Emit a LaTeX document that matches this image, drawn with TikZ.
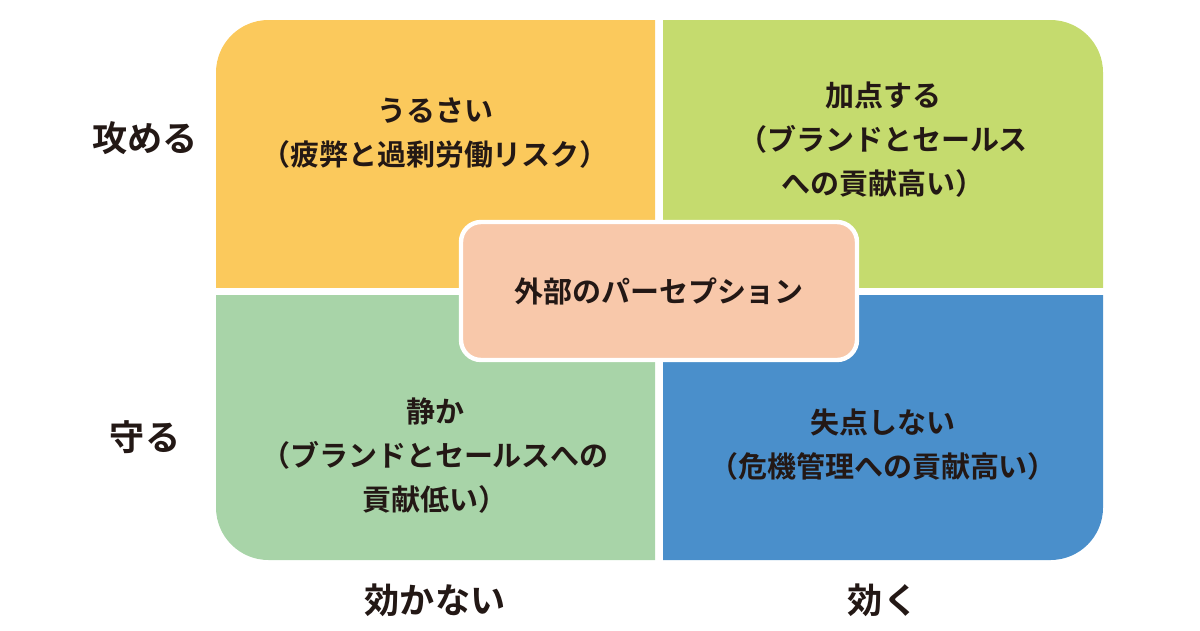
\documentclass[tikz,border=0pt]{standalone}
\usepackage{fontspec}
\setmainfont{Noto Sans CJK JP}[BoldFont={Noto Sans CJK JP Bold}]
\definecolor{inkdark}{HTML}{231815}
\definecolor{qyellow}{HTML}{FBC95C}
\definecolor{qlime}{HTML}{C5DB6E}
\definecolor{qgreen}{HTML}{A8D4A8}
\definecolor{qblue}{HTML}{4A8FCB}
\definecolor{qpeach}{HTML}{F8C8AA}
\tikzset{
  celltext/.style={text=inkdark,font=\bfseries\fontsize{16.5}{25}\selectfont,align=center},
  axistext/.style={text=inkdark,font=\bfseries\fontsize{20}{24}\selectfont}
}
\newcommand{\quadfill}[5]{%
  \begin{scope}
    \clip (#1,#2) rectangle (#3,#4);
    \fill[#5,rounded corners=1.05cm] (4.32,1.4) rectangle (22.06,12.2);
  \end{scope}}
\begin{document}
\begin{tikzpicture}
  \useasboundingbox (0,0) rectangle (24,12.6);

  % quadrants
  \quadfill{4.32}{6.86}{13.1}{12.2}{qyellow}
  \quadfill{13.26}{6.86}{22.06}{12.2}{qlime}
  \quadfill{4.32}{1.4}{13.1}{6.7}{qgreen}
  \quadfill{13.26}{1.4}{22.06}{6.7}{qblue}

  % centre box
  \node[draw=white,line width=2.5pt,fill=qpeach,rounded corners=0.4cm,
    minimum width=7.92cm,minimum height=2.76cm,celltext] (centre) at (13.18,6.78) {外部のパーセプション};

  % quadrant texts
  \node[celltext] (noisy) at (8.7,9.94) {うるさい\\（疲弊と過剰労働リスク）};
  \node[celltext] (plus) at (17.66,9.8) {加点する\\（ブランドとセールス\\への貢献高い）};
  \node[celltext] (quiet) at (8.7,3.48) {静か\\（ブランドとセールスへの\\貢献低い）};
  \node[celltext] (safe) at (17.66,3.7) {失点しない\\（危機管理への貢献高い）};

  % axis labels
  \node[axistext] (attack) at (2.9,9.84) {攻める};
  \node[axistext] (defend) at (2.9,3.86) {守る};
  \node[axistext] (noeffect) at (8.7,0.6) {効かない};
  \node[axistext] (effect) at (17.66,0.6) {効く};
\end{tikzpicture}
\end{document}
